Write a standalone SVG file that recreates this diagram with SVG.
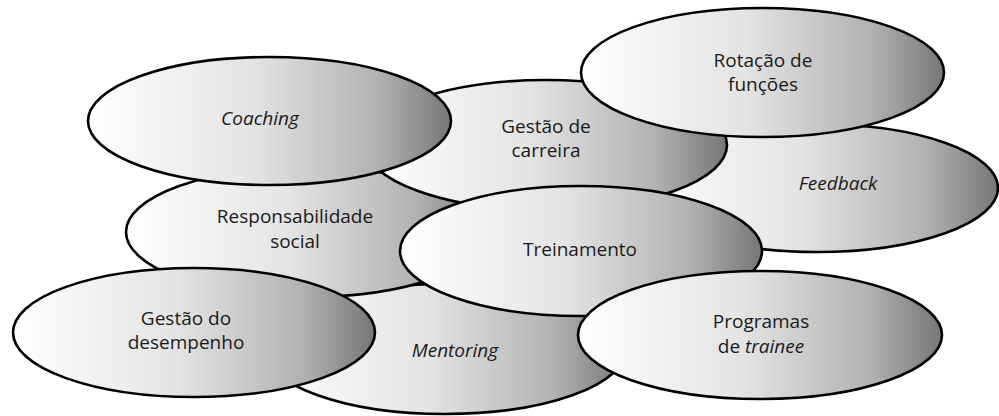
<svg xmlns="http://www.w3.org/2000/svg" width="999" height="416" viewBox="0 0 999 416">
  <defs>
    <!-- shared horizontal shading: light on the left, grey on the right -->
    <linearGradient id="shade" x1="0" y1="0" x2="1" y2="0">
      <stop offset="0" stop-color="#ffffff"/>
      <stop offset="0.45" stop-color="#e4e4e4"/>
      <stop offset="0.8" stop-color="#b2b2b2"/>
      <stop offset="1" stop-color="#767676"/>
    </linearGradient>
  </defs>
  <style>
    .blob { fill: url(#shade); stroke: #000; stroke-width: 2.6; }
    .lbl { font-family: "Open Sans", "Noto Sans", "Liberation Sans", sans-serif; font-size: 19px; fill: #1a1a1a; text-anchor: middle; }
    .it { font-style: italic; }
  </style>
  <rect width="999" height="416" fill="#ffffff"/>

  <!-- back-to-front stacking of the ellipses -->
  <g id="feedback">
    <ellipse class="blob" cx="817" cy="188" rx="181" ry="64"/>
    <text class="lbl it" x="838" y="190">Feedback</text>
  </g>
  <g id="mentoring">
    <ellipse class="blob" cx="445" cy="349" rx="181" ry="65"/>
    <text class="lbl it" x="455" y="357">Mentoring</text>
  </g>
  <g id="responsabilidade-social">
    <ellipse class="blob" cx="307" cy="232" rx="181" ry="65"/>
    <text class="lbl" x="295" y="223">Responsabilidade</text>
    <text class="lbl" x="295" y="248">social</text>
  </g>
  <g id="gestao-carreira">
    <ellipse class="blob" cx="546" cy="145" rx="181" ry="65"/>
    <text class="lbl" x="546" y="133">Gestão de</text>
    <text class="lbl" x="546" y="157">carreira</text>
  </g>
  <g id="rotacao-funcoes">
    <ellipse class="blob" cx="762.5" cy="72.5" rx="181.5" ry="64.5"/>
    <text class="lbl" x="763" y="67">Rotação de</text>
    <text class="lbl" x="763" y="91">funções</text>
  </g>
  <g id="coaching">
    <ellipse class="blob" cx="269.5" cy="121" rx="181.5" ry="64"/>
    <text class="lbl it" x="260" y="125">Coaching</text>
  </g>
  <g id="treinamento">
    <ellipse class="blob" cx="581" cy="251" rx="181" ry="65"/>
    <text class="lbl" x="580" y="256">Treinamento</text>
  </g>
  <g id="gestao-desempenho">
    <ellipse class="blob" cx="194" cy="332.5" rx="181" ry="64.5"/>
    <text class="lbl" x="186" y="325">Gestão do</text>
    <text class="lbl" x="186" y="349">desempenho</text>
  </g>
  <g id="programas-trainee">
    <ellipse class="blob" cx="760" cy="335" rx="182" ry="64"/>
    <text class="lbl" x="761" y="328">Programas</text>
    <text class="lbl" x="761" y="353">de <tspan class="it">trainee</tspan></text>
  </g>

  <!-- the figure has no connecting lines -->
  <g id="connectors"/>
</svg>
